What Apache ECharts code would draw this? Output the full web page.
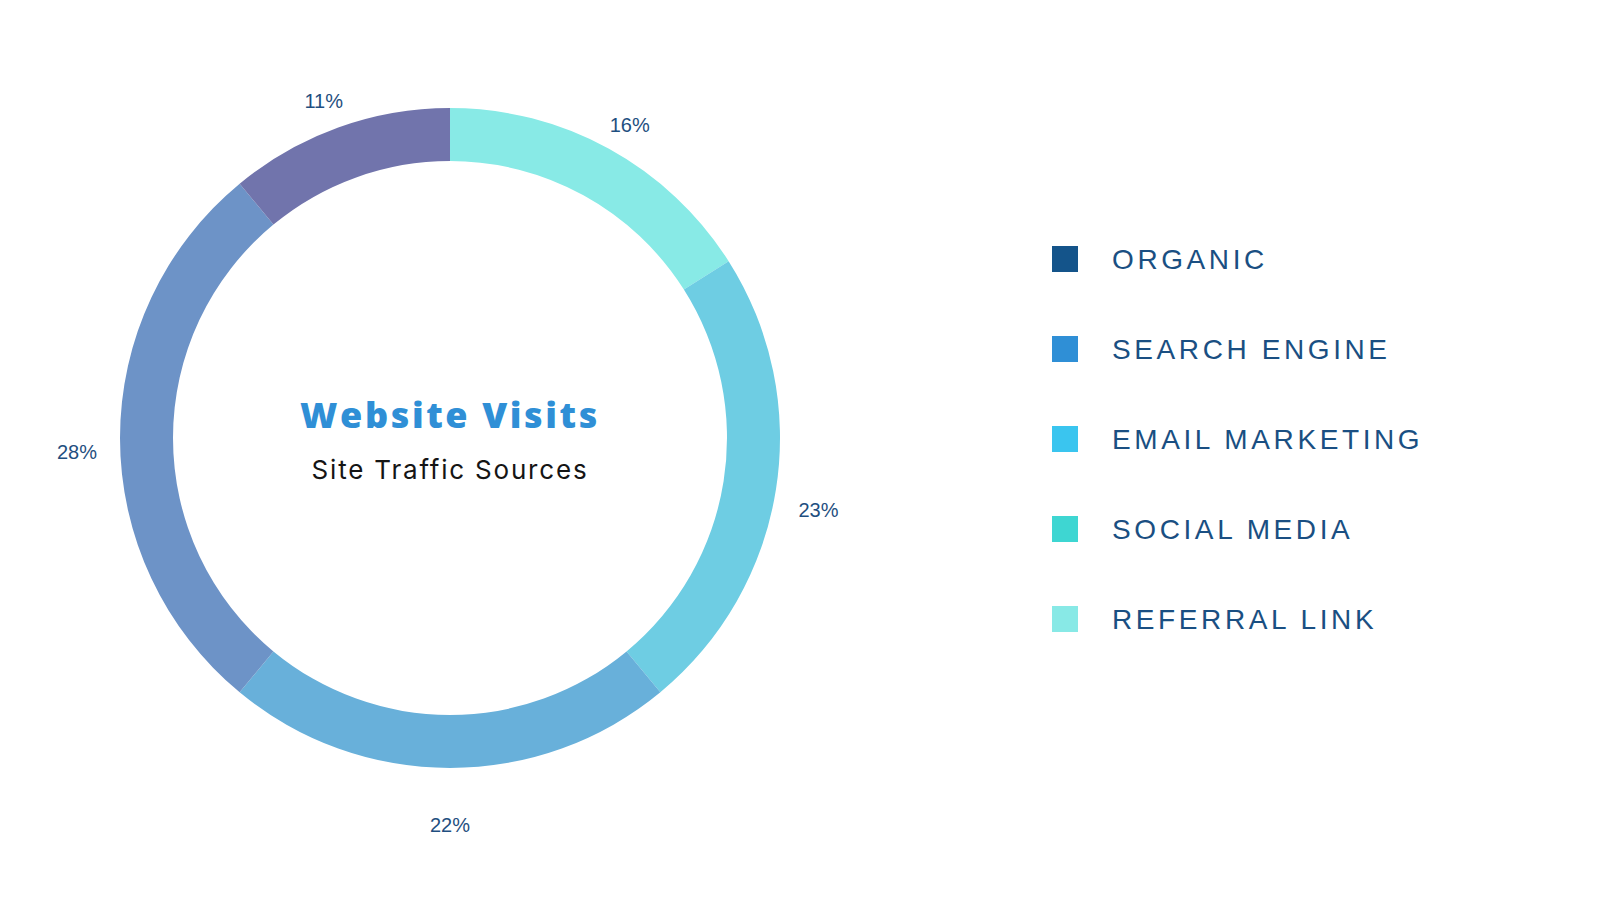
<!DOCTYPE html>
<html>
<head>
<meta charset="utf-8">
<title>Website Visits</title>
<script src="https://cdn.jsdelivr.net/npm/echarts@6/dist/echarts.min.js"></script>
<style>
  html, body { margin: 0; padding: 0; background: #fff; }
  #chartmain { width: 1600px; height: 900px; }
  /* spaced-out caps for the legend and the subtitle */
  #chartmain text[style*="Arimo"] { letter-spacing: 3.6px; }
  #chartmain text[style*="Roboto"] { letter-spacing: 1.8px; }
  #chartmain text[style*="Lato"] { letter-spacing: 2.6px; }
</style>
</head>
<body>
<div id="chartmain"></div>
<script>
// slices, clockwise from 12 o'clock
var sources = ['REFERRAL LINK', 'SOCIAL MEDIA', 'EMAIL MARKETING', 'SEARCH ENGINE', 'ORGANIC'];
var shares = [16, 23, 22, 28, 11];
var sliceColors = ['#88eae6', '#6ecde3', '#68b0da', '#6d93c7', '#7174ac'];

// legend, top to bottom
var legendNames = ['ORGANIC', 'SEARCH ENGINE', 'EMAIL MARKETING', 'SOCIAL MEDIA', 'REFERRAL LINK'];
var legendColors = ['#14548a', '#2f8fd6', '#3ac5ef', '#3ed6d2', '#88e9e6'];

var titleText = 'Website Visits';
var subText = 'Site Traffic Sources';

pieChart();

function pieChart() {
    var myChart = echarts.init(document.getElementById('chartmain'), null, { renderer: 'svg' });

    var ringData = sources.map(function (name, i) {
        return { name: name, value: shares[i], itemStyle: { color: sliceColors[i] } };
    });
    var labelData = sources.map(function (name, i) {
        return { name: name, value: shares[i] };
    });

    var option = {
        backgroundColor: '#ffffff',
        animation: false,
        legend: {
            orient: 'vertical',
            left: 1052,
            top: 245,
            padding: 0,
            itemWidth: 26,
            itemHeight: 26,
            itemGap: 62,
            icon: 'rect',
            selectedMode: false,
            data: legendNames.map(function (n, i) {
                return { name: n, itemStyle: { color: legendColors[i] } };
            }),
            textStyle: {
                color: '#1a4f82',
                fontSize: 28,
                fontFamily: 'Liberation Sans, Arimo',
                padding: [0, 0, 0, 29]
            }
        },
        graphic: [
            {
                type: 'text',
                x: 450,
                y: 414,
                style: {
                    text: titleText,
                    fill: '#2f8fd6',
                    fontSize: 36,
                    fontWeight: 800,
                    fontFamily: 'Open Sans, Lato',
                    textAlign: 'center',
                    textVerticalAlign: 'middle'
                }
            },
            {
                type: 'text',
                x: 450,
                y: 469,
                style: {
                    text: subText,
                    fill: '#151515',
                    fontSize: 26,
                    fontFamily: 'Inter, Roboto',
                    textAlign: 'center',
                    textVerticalAlign: 'middle'
                }
            }
        ],
        series: [
            {
                name: 'ring',
                type: 'pie',
                center: [450, 438],
                radius: [277, 330],
                startAngle: 90,
                clockwise: true,
                silent: true,
                label: { show: false },
                labelLine: { show: false },
                data: ringData
            },
            {
                // invisible outer band that only carries the percentage labels
                name: 'labels',
                type: 'pie',
                center: [450, 438],
                radius: [348, 392],
                startAngle: 90,
                clockwise: true,
                silent: true,
                itemStyle: { color: 'rgba(0,0,0,0)' },
                label: {
                    show: true,
                    position: 'inside',
                    formatter: '{c}%',
                    color: '#1f4f80',
                    fontSize: 20,
                    fontFamily: 'Liberation Sans',
                    offset: [0, 14]
                },
                labelLine: { show: false },
                data: labelData
            }
        ]
    };

    myChart.setOption(option);
}
</script>
</body>
</html>
